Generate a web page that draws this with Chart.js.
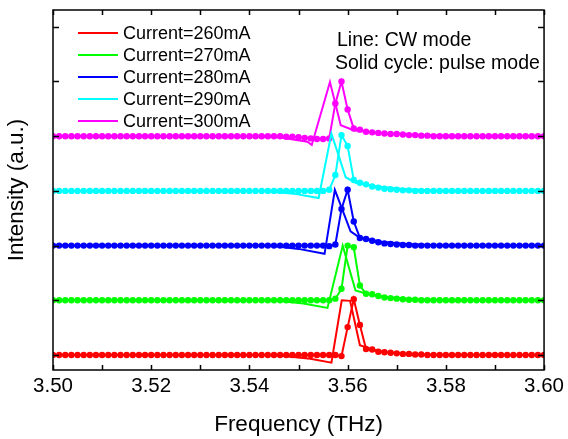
<!DOCTYPE html>
<html>
<head>
<meta charset="utf-8">
<script src="https://cdn.jsdelivr.net/npm/chart.js@4.4.0/dist/chart.umd.min.js"></script>
<style>
  html, body { margin: 0; padding: 0; background: #fff; }
</style>
</head>
<body>
<canvas id="chart" width="568" height="439"></canvas>
<script>
// series labels, colours and vertical offsets (stacked traces)
const currents = ['Current=260mA', 'Current=270mA', 'Current=280mA', 'Current=290mA', 'Current=300mA'];
const colors = ['#FF0000', '#00FF00', '#0000FF', '#00FFFF', '#FF00FF'];
const offsets = [0, 1, 2, 3, 4];

// axis ticks
const xTickLabels = [3.50, 3.52, 3.54, 3.56, 3.58, 3.60];
const xMinorTicks = [3.50, 3.51, 3.52, 3.53, 3.54, 3.55, 3.56, 3.57, 3.58, 3.59, 3.60];
const yTicks = [0, 1, 2, 3, 4, 5, 6];

// pulse mode: sampled every 1.25 GHz from 3.50 THz (81 points)
const freqStart = 3.5, freqStep = 0.00125;
const pulse260 = [
    0, 0, 0, 0, 0, 0, 0, 0, 0, 0,
    0, 0, 0, 0, 0, 0, 0, 0, 0, 0,
    0, 0, 0, 0, 0, 0, 0, 0, 0, 0,
    0, 0, 0, 0, 0, 0, 0, 0, 0, 0,
    0, 0, 0, 0, 0, 0, 0, -0.02, 0.51, 1.02,
    0.55, 0.11, 0.10, 0.06, 0.05, 0.04, 0.03, 0.02, 0.02, 0.01,
    0.01, 0, 0, 0, 0, 0, 0, 0, 0, 0,
    0, 0, 0, 0, 0, 0, 0, 0, 0, 0, 0
];
const pulse270 = [
    0, 0, 0, 0, 0, 0, 0, 0, 0, 0,
    0, 0, 0, 0, 0, 0, 0, 0, 0, 0,
    0, 0, 0, 0, 0, 0, 0, 0, 0, 0,
    0, 0, 0, 0, 0, 0, 0, 0, 0, 0,
    0, 0, 0, 0, 0, 0, 0.03, 0.21, 1.00, 0.97,
    0.27, 0.12, 0.11, 0.08, 0.05, 0.04, 0.03, 0.02, 0.01, 0.01,
    0, 0, 0, 0, 0, 0, 0, 0, 0, 0,
    0, 0, 0, 0, 0, 0, 0, 0, 0, 0, 0
];
const pulse280 = [
    0, 0, 0, 0, 0, 0, 0, 0, 0, 0,
    0, 0, 0, 0, 0, 0, 0, 0, 0, 0,
    0, 0, 0, 0, 0, 0, 0, 0, 0, 0,
    0, 0, 0, 0, 0, 0, 0, 0, 0, 0,
    0, 0, 0, 0, 0, -0.01, 0.02, 0.67, 1.02, 0.44,
    0.14, 0.12, 0.09, 0.06, 0.04, 0.03, 0.02, 0.01, 0.01, 0,
    0, 0, 0, 0, 0, 0, 0, 0, 0, 0,
    0, 0, 0, 0, 0, 0, 0, 0, 0, 0, 0
];
const pulse290 = [
    0, 0, 0, 0, 0, 0, 0, 0, 0, 0,
    0, 0, 0, 0, 0, 0, 0, 0, 0, 0,
    0, 0, 0, 0, 0, 0, 0, 0, 0, 0,
    0, 0, 0, 0, 0, 0, 0, 0, 0, 0,
    0, 0, 0, 0, 0, 0.02, 0.29, 1.02, 0.82, 0.20,
    0.15, 0.12, 0.08, 0.06, 0.04, 0.03, 0.02, 0.01, 0.01, 0,
    0, 0, 0, 0, 0, 0, 0, 0, 0, 0,
    0, 0, 0, 0, 0, 0, 0, 0, 0, 0, 0
];
const pulse300 = [
    0, 0, 0, 0, 0, 0, 0, 0, 0, 0,
    0, 0, 0, 0, 0, 0, 0, 0, 0, 0,
    0, 0, 0, 0, 0, 0, 0, 0, 0, 0,
    0, 0, 0, 0, 0, 0, 0, 0, -0.01, -0.01,
    -0.02, -0.03, -0.04, -0.05, -0.05, -0.04, 0.60, 1.00, 0.49, 0.14,
    0.12, 0.08, 0.07, 0.06, 0.05, 0.04, 0.04, 0.03, 0.02, 0.02,
    0.01, 0.01, 0, 0, 0, 0, 0, 0, 0, 0,
    0, 0, 0, 0, 0, 0, 0, 0, 0, 0, 0
];

// CW mode: read as a line, key points only
const cwFreq260 = [3.500, 3.545, 3.5524, 3.5567, 3.5588, 3.5605, 3.5625, 3.565, 3.568, 3.572, 3.580, 3.600];
const cw260 = [0, 0, -0.07, -0.14, 1.00, 0.99, 0.18, 0.10, 0.05, 0.02, 0, 0];
const cwFreq270 = [3.500, 3.545, 3.551, 3.5559, 3.5590, 3.5616, 3.5639, 3.567, 3.572, 3.580, 3.600];
const cw270 = [0, 0, -0.06, -0.14, 1.00, 0.18, 0.12, 0.07, 0.03, 0, 0];
const cwFreq280 = [3.500, 3.544, 3.550, 3.5553, 3.5574, 3.5606, 3.5622, 3.5639, 3.567, 3.572, 3.580, 3.600];
const cw280 = [0, 0, -0.06, -0.15, 1.02, 0.26, 0.16, 0.12, 0.07, 0.03, 0, 0];
const cwFreq290 = [3.500, 3.543, 3.549, 3.5541, 3.5567, 3.5596, 3.5616, 3.564, 3.567, 3.572, 3.580, 3.600];
const cw290 = [0, 0, -0.05, -0.13, 1.05, 0.25, 0.15, 0.11, 0.07, 0.03, 0, 0];
const cwFreq300 = [3.500, 3.540, 3.546, 3.5518, 3.5527, 3.5564, 3.5586, 3.5612, 3.564, 3.568, 3.575, 3.585, 3.600];
const cw300 = [0, 0, -0.02, -0.10, -0.16, 0.99, 0.20, 0.11, 0.08, 0.05, 0.02, 0, 0];

const pulseSeries = [pulse260, pulse270, pulse280, pulse290, pulse300];
const cwSeries = [[cwFreq260, cw260], [cwFreq270, cw270], [cwFreq280, cw280], [cwFreq290, cw290], [cwFreq300, cw300]];

const FONT = "'Liberation Sans', Arial, sans-serif";

const datasets = [];
pulseSeries.forEach((vals, k) => {
    const [fx, fy] = cwSeries[k];
    datasets.push({
        label: currents[k] + ' CW',
        data: fx.map((f, i) => ({ x: f, y: fy[i] + offsets[k] })),
        showLine: true,
        borderColor: colors[k],
        backgroundColor: colors[k],
        borderWidth: 2,
        pointRadius: 0
    });
    datasets.push({
        label: currents[k],
        data: vals.map((v, i) => ({ x: freqStart + i * freqStep, y: v + offsets[k] })),
        showLine: true,
        borderColor: colors[k],
        backgroundColor: colors[k],
        borderWidth: 2,
        pointRadius: 3.2,
        pointBorderWidth: 0
    });
});

const frame = {
    id: 'frame',
    afterDraw(chart) {
        const { ctx, chartArea: a, scales: { x, y } } = chart;
        ctx.save();
        ctx.strokeStyle = '#000';
        ctx.lineWidth = 1.5;
        ctx.strokeRect(a.left, a.top, a.right - a.left, a.bottom - a.top);
        ctx.beginPath();
        xMinorTicks.forEach(v => {
            const px = Math.round(x.getPixelForValue(v)) + 0.5;
            ctx.moveTo(px, a.bottom); ctx.lineTo(px, a.bottom - 5);
            ctx.moveTo(px, a.top); ctx.lineTo(px, a.top + 5);
        });
        yTicks.forEach(v => {
            const py = Math.round(y.getPixelForValue(v)) + 0.5;
            ctx.moveTo(a.left, py); ctx.lineTo(a.left + 6, py);
            ctx.moveTo(a.right, py); ctx.lineTo(a.right - 6, py);
        });
        ctx.stroke();

        // legend
        ctx.font = '18px ' + FONT;
        ctx.textBaseline = 'middle';
        ctx.fillStyle = '#000';
        currents.forEach((c, k) => {
            const ly = 33 + k * 22;
            ctx.strokeStyle = colors[k];
            ctx.lineWidth = 2;
            ctx.beginPath();
            ctx.moveTo(78, ly); ctx.lineTo(118, ly);
            ctx.stroke();
            ctx.fillText(c, 123, ly + 1);
        });

        ctx.font = '19.5px ' + FONT;
        ctx.fillText('Line: CW mode', 337, 41);
        ctx.fillText('Solid cycle: pulse mode', 335, 64);
        ctx.restore();
    }
};

new Chart(document.getElementById('chart'), {
    type: 'scatter',
    data: { datasets },
    options: {
        responsive: false,
        animation: false,
        layout: { padding: { top: 10, right: 23, left: 0, bottom: 0 } },
        plugins: { legend: { display: false }, tooltip: { enabled: false } },
        scales: {
            x: {
                type: 'linear',
                min: 3.5,
                max: 3.6,
                grid: { display: false, drawTicks: false },
                border: { display: false },
                afterBuildTicks: s => { s.ticks = xTickLabels.map(v => ({ value: v })); },
                afterFit: s => { s.height = 69; },
                ticks: {
                    padding: 4,
                    color: '#000',
                    font: { family: FONT, size: 20.5 },
                    maxRotation: 0,
                    callback: v => v.toFixed(2)
                },
                title: {
                    display: true,
                    text: 'Frequency (THz)',
                    color: '#000',
                    font: { family: FONT, size: 22.5 },
                    padding: { top: 0, bottom: 1 }
                }
            },
            y: {
                type: 'linear',
                min: -0.274,
                max: 6.307,
                grid: { display: false, drawTicks: false },
                border: { display: false },
                afterFit: s => { s.width = 53; },
                ticks: { display: false },
                title: {
                    display: true,
                    text: 'Intensity (a.u.)',
                    color: '#000',
                    font: { family: FONT, size: 22.5 },
                    padding: { top: 3, bottom: 0 }
                }
            }
        }
    },
    plugins: [frame]
});
</script>
</body>
</html>
